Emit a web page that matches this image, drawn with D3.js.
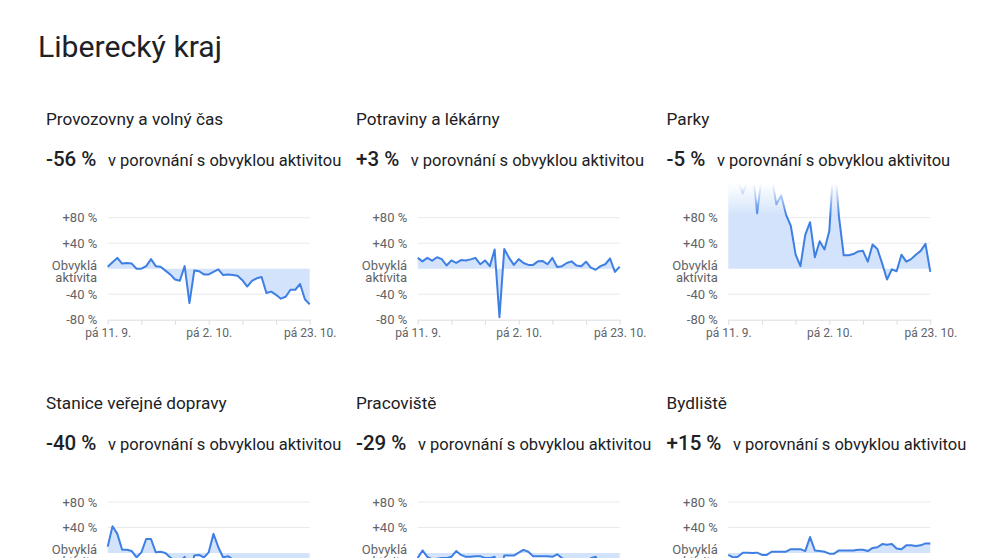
<!DOCTYPE html>
<html>
<head>
<meta charset="utf-8">
<script src="https://cdn.jsdelivr.net/npm/d3@7"></script>
<style>
  html, body { margin: 0; padding: 0; background: #fff; overflow: hidden; }
  svg { display: block; font-family: Roboto, "Noto Sans", sans-serif; }
</style>
</head>
<body>
<svg id="chart" width="991" height="558"></svg>
<script>
// ---- data ----
const regionTitle = "Liberecký kraj";
const startDate = "2020-09-11";
const endDate = "2020-10-23";
const categories = ["Provozovny a volný čas", "Potraviny a lékárny", "Parky",
                    "Stanice veřejné dopravy", "Pracoviště", "Bydliště"];
const headlineValues = ["-56 %", "+3 %", "-5 %", "-40 %", "-29 %", "+15 %"];
const compareText = "v porovnání s obvyklou aktivitou";

const retail = [3,10,17,8,9,8,0,0,4,15,4,3,-3,-9,-17,-19,4,-54,-3,-4,-9,-9,-5,-1,-10,-9,-10,-11,-18,-28,-19,-15,-13,-38,-36,-41,-47,-44,-33,-33,-24,-48,-56];
const grocery = [17,11.5,17,12.5,18,15,5,13,9,13.6,13,14.6,17,7,13,4,30,-76,31,17,6,15,9,6,6,11.5,12,7,17,2.6,4,9,11.5,5,4,11,1.6,-1.6,4,7,16,-5,3];
const parks = [130,150,140,118,140,160,87,150,170,145,101,115,85,67,22,4,53,73,18,43,30,59,180,82,21,21,23,27,28,11,38,31,8,-17,-1,-4,22,11,15,22,28,39,-5];
const transit = [10,42,30,5,5,3,-7,1,22,22,1,2,0,-7,-12,-14,-6,-35,-4,-3,-7,1,30,9,-7,-5,-10,-12,-11,-18,-14,-12,-13,-30,-28,-32,-36,-34,-30,-28,-26,-34,-40];
const workplaces = [-8,4,-6,-10,-9,-8,-8,-6,3,-3,-6,-6,-5,-5,-8,-8,-6,-40,-4,-4,-4,0.5,5,2,-5,-5,-5,-5,-6,-2,-8,-12,-14,-15,-16,-18,-8,-6,-20,-22,-24,-25,-29];
const residential = [-3,-7,-6,0.5,0.5,0,0.5,-3,-3,2,2,2,2,6,6,6,3,25,4,3,2,-1,-1,4,4,4,4,5,5,3,8,9,14,13,14,7,6,12,12,11,12,15,15];

const yTickValues = [80, 40, 0, -40, -80];
const yTickLabels = ["+80 %", "+40 %", "Obvyklá\naktivita", "-40 %", "-80 %"];
const xTickLabels = ["pá 11. 9.", "pá 2. 10.", "pá 23. 10."];

const seriesList = [retail, grocery, parks, transit, workplaces, residential];

// ---- layout ----
const svg = d3.select("#chart");
const parse = d3.utcParse("%Y-%m-%d");
const d0 = parse(startDate), d1 = parse(endDate);
const dates = d3.utcDay.range(d0, d3.utcDay.offset(d1, 1));
const weekTicks = d3.utcDay.range(d0, d3.utcDay.offset(d1, 1), 7);

const colX = [107.7, 417.7, 728.3];
const plotW = 202;
const rowTop = [217.7, 502];   // y of +80 gridline
const plotH = 102;

svg.append("text")
  .attr("x", 38).attr("y", 57)
  .attr("font-size", 30.2).attr("fill", "#202124")
  .text(regionTitle);

const defs = svg.append("defs");

categories.forEach((cat, k) => {
  const col = k % 3, row = Math.floor(k / 3);
  const x0 = colX[col], top = rowTop[row];
  const data = seriesList[k].map((v, i) => ({ date: dates[i], v }));

  const x = d3.scaleUtc().domain([d0, d1]).range([x0, x0 + plotW]);
  const y = d3.scaleLinear().domain([-80, 80]).range([top + plotH, top]);

  const g = svg.append("g");

  // header
  g.append("text")
    .attr("x", x0 - 61.7).attr("y", top - 93)
    .attr("font-size", 17.2).attr("fill", "#202124")
    .text(cat);

  const val = g.append("text")
    .attr("x", x0 - 61.7).attr("y", top - 52)
    .attr("font-size", 20.5).attr("font-weight", 500).attr("fill", "#202124")
    .text(headlineValues[k]);
  const vw = val.node().getComputedTextLength();
  g.append("text")
    .attr("x", x0 - 61.7 + vw + 11.5).attr("y", top - 52)
    .attr("font-size", 16.5).attr("fill", "#202124")
    .text(compareText);

  // gridlines
  g.selectAll("line.grid")
    .data(yTickValues.filter(v => v !== 0 && v !== -80))
    .join("line")
    .attr("x1", x0).attr("x2", x0 + plotW)
    .attr("y1", d => y(d)).attr("y2", d => y(d))
    .attr("stroke", "#e8eaed").attr("stroke-width", 1);

  // y labels
  yTickValues.forEach((v, i) => {
    const lines = yTickLabels[i].split("\n");
    const t = g.append("text")
      .attr("text-anchor", "end")
      .attr("font-size", 13).attr("fill", "#5f6368");
    if (lines.length === 1) {
      t.attr("x", x0 - 10.5).attr("y", y(v) + 4.5).text(lines[0]);
    } else {
      lines.forEach((ln, j) => {
        t.append("tspan").attr("x", x0 - 10.5)
          .attr("y", y(v) + 1 + j * 11.8).text(ln);
      });
    }
  });

  // x axis
  const axis = d3.axisBottom(x)
    .tickValues(weekTicks)
    .tickSize(5).tickSizeOuter(0)
    .tickFormat((d, i) => (i % 3 === 0 ? xTickLabels[i / 3] : ""));
  const ag = g.append("g").attr("transform", `translate(0,${y(-80)})`).call(axis);
  ag.select(".domain").attr("stroke", "#dadce0");
  ag.selectAll(".tick line").attr("stroke", "#dadce0");
  ag.selectAll(".tick text")
    .attr("font-family", "Roboto, sans-serif")
    .attr("font-size", 12).attr("fill", "#5f6368").attr("dy", 0).attr("y", 17);

  // mask fading top overflow
  const gid = "fade" + k, mid = "mask" + k;
  const lg = defs.append("linearGradient").attr("id", gid)
    .attr("gradientUnits", "userSpaceOnUse")
    .attr("x1", 0).attr("x2", 0).attr("y1", top - 34).attr("y2", top - 2);
  lg.append("stop").attr("offset", 0).attr("stop-color", "#fff").attr("stop-opacity", 0);
  lg.append("stop").attr("offset", 1).attr("stop-color", "#fff").attr("stop-opacity", 1);
  defs.append("mask").attr("id", mid)
    .attr("maskUnits", "userSpaceOnUse")
    .attr("x", x0 - 5).attr("y", top - 80).attr("width", plotW + 10).attr("height", plotH + 90)
    .append("rect")
    .attr("x", x0 - 5).attr("y", top - 80).attr("width", plotW + 10).attr("height", plotH + 90)
    .attr("fill", `url(#${gid})`);

  const pg = g.append("g").attr("mask", `url(#${mid})`);

  const area = d3.area().x(d => x(d.date)).y0(y(0)).y1(d => y(d.v));
  const line = d3.line().x(d => x(d.date)).y(d => y(d.v));

  pg.append("path").datum(data).attr("d", area).attr("fill", "#d3e3fb");
  pg.append("path").datum(data).attr("d", line)
    .attr("fill", "none").attr("stroke", "#3e7fe3")
    .attr("stroke-width", 2).attr("stroke-linejoin", "round");
});
</script>
</body>
</html>
